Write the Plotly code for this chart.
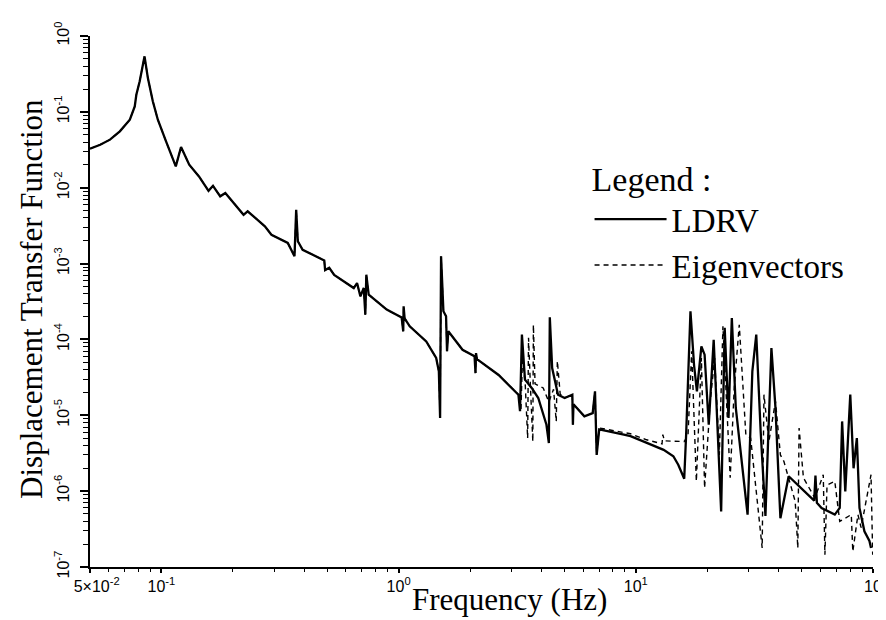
import plotly.graph_objects as go

# ---- LDRV (solid) : frequency [Hz] and displacement transfer function ----
ldrv_freq = [0.05, 0.0552, 0.0607, 0.0668, 0.0736, 0.0772, 0.0784, 0.081, 0.0849, 0.0877,
             0.092, 0.0966, 0.1046, 0.1115, 0.115, 0.121, 0.131,
             0.144, 0.158, 0.165, 0.177, 0.186, 0.222, 0.231, 0.273, 0.291, 0.341,
             0.364, 0.370, 0.376, 0.394, 0.486, 0.49, 0.51, 0.535, 0.647, 0.668,
             0.69, 0.713, 0.724, 0.731, 0.748, 0.891, 1.03, 1.046, 1.05, 1.06,
             1.114, 1.308, 1.44, 1.478, 1.496, 1.51, 1.545, 1.585, 1.60, 1.62,
             1.86, 2.09, 2.11, 2.12, 2.14, 2.64, 3.2, 3.25, 3.31, 3.41,
             3.64, 3.88, 4.2, 4.3, 4.34, 4.44, 4.7, 5.01, 5.40, 5.43,
             5.46, 6.07, 6.58, 6.73, 6.84, 7.01, 8.91, 9.5, 11.0, 13.1, 14.4, 15.1,
             16.0, 16.3, 17.0, 17.6, 18.1, 18.9, 19.5, 20.3, 21.3, 21.8,
             22.9, 23.7, 24.6, 25.4, 26.4, 29.6, 31.0, 32.2, 33.6, 35.2,
             37.3, 38.8, 40.7, 44.1, 53.4, 56.5, 57.2, 58.0, 60.7, 69.0,
             72.4, 74.1, 76.4, 80.2, 82.8, 85.5, 87.7, 92.0, 96.6, 98.1]
ldrv_val = [0.0327, 0.0369, 0.043, 0.0554, 0.0788, 0.118, 0.168, 0.253, 0.54, 0.279,
            0.138, 0.0788, 0.0409, 0.0234, 0.0191, 0.0344, 0.0201,
            0.0141, 0.0091, 0.0106, 0.0077, 0.0085, 0.0044, 0.00489, 0.0031, 0.0024, 0.00187,
            0.00125, 0.0051, 0.00197, 0.00152, 0.0011, 0.00082, 0.00088, 0.00071, 0.000476, 0.000554,
            0.00037, 0.000476, 0.000212, 0.000713, 0.00039, 0.000247, 0.000195, 0.000128, 0.000273, 0.00019,
            0.000149, 9.4e-5, 5.7e-5, 3.8e-5, 9.2e-6, 0.00125, 0.000235, 0.000202, 7e-5, 0.000128,
            7.3e-5, 6.0e-5, 3.6e-5, 6.6e-5, 5.5e-5, 3.4e-5, 1.87e-5, 1.13e-5, 1.16e-4, 2.95e-5,
            2.29e-5, 1.69e-5, 7.5e-6, 4.3e-6, 1.96e-4, 4.2e-5, 1.87e-5, 1.69e-5, 1.87e-5, 7.5e-6,
            1.4e-5, 9.7e-6, 1.07e-5, 2.07e-5, 3.0e-6, 6.5e-6, 5.55e-6, 5.3e-6, 4.4e-6, 3.5e-6, 2.88e-6, 2.23e-6,
            1.46e-6, 5.55e-6, 2.35e-4, 4.6e-5, 2.07e-5, 8.1e-5, 6.3e-5, 7.5e-6, 9.9e-5, 1.69e-5,
            5.4e-7, 1.42e-4, 9.2e-6, 1.92e-4, 1.25e-5, 4.9e-7, 3.8e-5, 1.16e-4, 6.15e-6, 4.7e-7,
            7.7e-5, 1.25e-5, 4.4e-7, 1.57e-6, 9.0e-7, 7.5e-7, 1.6e-6, 7.0e-7, 6.0e-7, 4.9e-7,
            6.0e-7, 8.3e-6, 9.9e-7, 1.87e-5, 2.0e-6, 5.0e-6, 6.0e-7, 2.95e-7, 2.2e-7, 1.78e-7]

# ---- Eigenvectors (dashed): identical to LDRV up to ~3.2 Hz, then own values ----
eig_low_count = ldrv_freq.index(3.2) + 1  # LDRV points shared up to 3.2 Hz
eig_hi_freq = [3.28, 3.33, 3.42, 3.50, 3.53, 3.60, 3.68, 3.70, 3.76, 4.07,
               4.30, 4.50, 4.62, 4.67, 4.80, 5.01, 5.40, 5.43, 5.46, 6.07,
               6.58, 6.73, 6.84, 7.01, 8.91, 9.5, 11.0, 12.9, 13.0, 13.2, 16.0,
               16.6, 17.2, 18.0, 18.9, 19.5, 20.6, 21.5, 22.5, 23.3, 25.0,
               26.0, 27.3, 29.1, 30.5, 34.1, 34.7, 36.4, 38.8, 40.7, 42.1,
               47.0, 48.2, 48.8, 50.9, 56.9, 61.7, 62.7, 64.0, 69.0, 72.4,
               81.0, 82.2, 86.4, 89.1, 98.1, 99.7]
eig_hi_val = [1.2e-5, 6.0e-5, 2.5e-5, 5.0e-6, 1.05e-4, 2.2e-5, 4.5e-6, 1.56e-4, 2.6e-5, 2.29e-5,
              1.5e-5, 2.2e-5, 8.3e-6, 5.2e-5, 1.9e-5, 1.69e-5, 1.87e-5, 7.5e-6, 1.4e-5, 9.7e-6,
              1.07e-5, 2.07e-5, 3.0e-6, 6.8e-6, 6.0e-6, 5.7e-6, 4.8e-6, 4.2e-6, 5.55e-6, 4.6e-6, 4.5e-6,
              5.5e-6, 7.0e-5, 1.35e-6, 5.7e-5, 1.1e-6, 1.53e-5, 5.7e-5, 3.0e-6, 1.49e-4, 1.5e-6,
              2.29e-5, 1.56e-4, 5.55e-6, 5.0e-6, 1.78e-7, 1.87e-5, 4.5e-6, 1.53e-5, 3.0e-6, 2.47e-6,
              7.3e-7, 1.78e-7, 6.8e-6, 1.5e-6, 8.1e-7, 1.65e-6, 1.45e-7, 1.2e-6, 1.35e-6, 4.0e-7,
              4.9e-7, 1.6e-7, 4.9e-7, 3.3e-7, 1.65e-6, 1.45e-7]

eig_freq = ldrv_freq[:eig_low_count] + eig_hi_freq
eig_val = ldrv_val[:eig_low_count] + eig_hi_val

# ---- axis ticks ----
x_tickvals = [0.05, 0.1, 1, 10, 100]
x_ticktext = ["&nbsp;&nbsp;&nbsp;5×10<sup>-2</sup>", "10<sup>-1</sup>",
              "10<sup>0</sup>", "10<sup>1</sup>", "10"]
x_minor = [0.06, 0.07, 0.08, 0.09] + [m * 0.1 for m in range(2, 10)] + \
          [m * 1.0 for m in range(2, 10)] + [m * 10.0 for m in range(2, 10)]
y_tickvals = [1e-7, 1e-6, 1e-5, 1e-4, 1e-3, 1e-2, 1e-1, 1]
y_ticktext = ["10<sup>-7</sup>", "10<sup>-6</sup>", "10<sup>-5</sup>", "10<sup>-4</sup>",
              "10<sup>-3</sup>", "10<sup>-2</sup>", "10<sup>-1</sup>", "10<sup>0</sup>"]
y_minor = [m * 10.0 ** e for e in range(-7, 0) for m in range(2, 10)]

fig = go.Figure()
fig.add_trace(go.Scatter(
    x=eig_freq, y=eig_val, mode="lines", name="Eigenvectors", legendrank=2,
    line=dict(color="black", width=1.4, dash="5px,4px")))
fig.add_trace(go.Scatter(
    x=ldrv_freq, y=ldrv_val, mode="lines", name="LDRV", legendrank=1,
    line=dict(color="black", width=2.3)))

serif = "Liberation Serif, Times New Roman, serif"
tickfont = dict(family="Liberation Sans, Arial, sans-serif", size=16, color="black")

fig.update_layout(
    width=886, height=620,
    margin=dict(l=82, r=13, t=28, b=61),
    paper_bgcolor="white", plot_bgcolor="white",
    showlegend=True,
    legend=dict(
        x=0.638, y=0.791, xanchor="left", yanchor="top",
        bgcolor="rgba(0,0,0,0)",
        title=dict(text="Legend :", font=dict(family=serif, size=34, color="black")),
        font=dict(family=serif, size=33, color="black"),
        tracegroupgap=0, itemwidth=72,
    ),
    xaxis=dict(
        type="log", range=[-1.30103, 2], showgrid=False, zeroline=False,
        showline=True, linecolor="black", linewidth=2, mirror=False,
        ticks="outside", ticklen=4, tickwidth=1.5, tickcolor="black",
        tickvals=x_tickvals, ticktext=x_ticktext, tickfont=tickfont,
        minor=dict(tickvals=x_minor, ticks="outside", ticklen=3, tickwidth=1.3, tickcolor="black"),
    ),
    yaxis=dict(
        type="log", range=[-7, 0], showgrid=False, zeroline=False,
        showline=True, linecolor="black", linewidth=2, mirror=False,
        ticks="outside", ticklen=8, tickwidth=1.5, tickcolor="black",
        tickvals=y_tickvals, ticktext=y_ticktext, tickfont=tickfont, tickangle=-90,
        ticklabelstandoff=5,
        minor=dict(tickvals=y_minor, ticks="outside", ticklen=5, tickwidth=1.3, tickcolor="black"),
    ),
    annotations=[
        dict(text="Frequency (Hz)", xref="paper", yref="paper", x=0.536, y=-0.062,
             xanchor="center", yanchor="middle", showarrow=False,
             font=dict(family=serif, size=31, color="black")),
        dict(text="Displacement Transfer Function", xref="paper", yref="paper",
             x=-0.074, y=0.505, xanchor="center", yanchor="middle", textangle=-90,
             showarrow=False, font=dict(family=serif, size=31, color="black")),
    ],
)

fig.write_html("out.html")
